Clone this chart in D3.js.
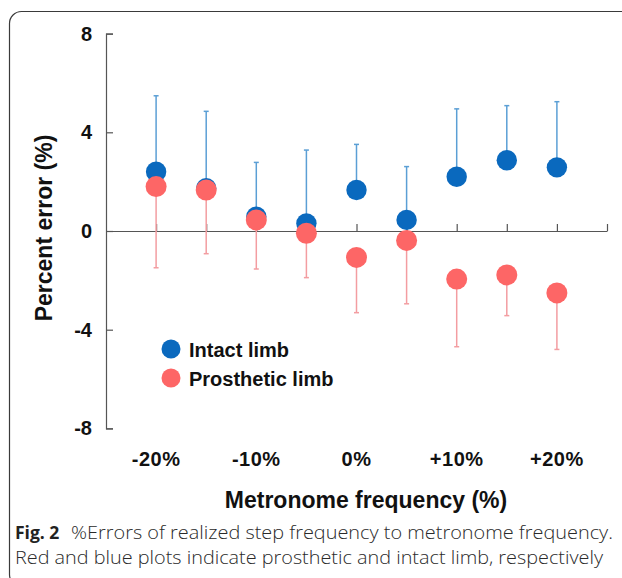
<!DOCTYPE html>
<html>
<head>
<meta charset="utf-8">
<script src="https://cdn.jsdelivr.net/npm/d3@7"></script>
<style>
  html, body { margin: 0; padding: 0; background: #fff; }
  svg { display: block; }
</style>
</head>
<body>
<svg id="chart" width="622" height="578"></svg>
<script>
// Metronome conditions (frequency offset from preferred cadence)
const categories = ["-20%", "-15%", "-10%", "-5%", "0%", "+5%", "+10%", "+15%", "+20%"];
const shownTickLabels = ["-20%", "-10%", "0%", "+10%", "+20%"];
const yTicks = [8, 4, 0, -4, -8];

// Percent error of realized step frequency (mean and SD)
const intactMean = [2.40, 1.73, 0.58, 0.31, 1.66, 0.45, 2.20, 2.87, 2.58];
const intactSD   = [3.08, 3.12, 2.20, 2.97, 1.85, 2.16, 2.75, 2.21, 2.66];
const prostheticMean = [1.80, 1.66, 0.45, -0.09, -1.07, -0.38, -1.95, -1.78, -2.51];
const prostheticSD   = [3.29, 2.58, 1.99, 1.80, 2.24, 2.57, 2.74, 1.65, 2.29];

const seriesNames = ["Intact limb", "Prosthetic limb"];

const svg = d3.select("#chart");
const AXIS_FONT = "'Liberation Sans', Arial, sans-serif";

// Rounded figure frame (runs past the right and bottom edges)
svg.append("rect")
  .attr("x", 9.5).attr("y", 11.5)
  .attr("width", 640).attr("height", 575)
  .attr("rx", 12).attr("ry", 12)
  .attr("fill", "none")
  .attr("stroke", "#3a3a3a")
  .attr("stroke-width", 1.2);

// Scales: categories sit at positions 1..9 on a 0..10 axis
const x = d3.scaleLinear().domain([0, 10]).range([106, 607]);
const y = d3.scaleLinear().domain([-8, 8]).range([428.4, 33.6]);
const pos = i => x(i + 1);

// Y axis with inward ticks
const yAxis = svg.append("g")
  .attr("transform", `translate(${x(0)},0)`)
  .call(d3.axisLeft(y).tickValues(yTicks).tickSizeInner(-7).tickSizeOuter(-7).tickPadding(14)
        .tickFormat(d => String(d)));
yAxis.selectAll("path, line").attr("stroke", "#555").attr("stroke-width", 1.2);
yAxis.selectAll("text")
  .attr("font-family", AXIS_FONT).attr("font-weight", "bold")
  .attr("font-size", 20).attr("fill", "#111");

// X axis along zero with upward ticks
const xAxis = svg.append("g")
  .attr("transform", `translate(0,${y(0)})`)
  .call(d3.axisBottom(x).tickValues(d3.range(1, 11)).tickSizeInner(-7).tickSizeOuter(0)
        .tickFormat(""));
xAxis.selectAll("path, line").attr("stroke", "#555").attr("stroke-width", 1.2);

// Category labels below the plot
svg.append("g").selectAll("text")
  .data(shownTickLabels)
  .join("text")
  .attr("x", d => pos(categories.indexOf(d)))
  .attr("y", 466)
  .attr("text-anchor", "middle")
  .attr("font-family", AXIS_FONT).attr("font-weight", "bold")
  .attr("font-size", 20).attr("letter-spacing", 0.5)
  .attr("fill", "#111")
  .text(d => d);

// Axis titles
svg.append("text")
  .attr("x", 366).attr("y", 508)
  .attr("text-anchor", "middle")
  .attr("font-family", AXIS_FONT).attr("font-weight", "bold")
  .attr("font-size", 23).attr("fill", "#111")
  .text("Metronome frequency (%)");

svg.append("text")
  .attr("transform", "translate(52,228) rotate(-90)")
  .attr("text-anchor", "middle")
  .attr("font-family", AXIS_FONT).attr("font-weight", "bold")
  .attr("font-size", 23).attr("fill", "#111")
  .text("Percent error (%)");

// Error bars: intact upward, prosthetic downward
const capHalf = 2.5;
function errorBars(means, sds, dir, color) {
  const g = svg.append("g").attr("stroke", color).attr("stroke-width", 1.5).attr("fill", "none");
  means.forEach((m, i) => {
    const end = m + dir * sds[i];
    g.append("line").attr("x1", pos(i)).attr("x2", pos(i)).attr("y1", y(m)).attr("y2", y(end));
    g.append("line").attr("x1", pos(i) - capHalf).attr("x2", pos(i) + capHalf)
      .attr("y1", y(end)).attr("y2", y(end));
  });
}
const blue = "#0a69be";
const red = "#fd6666";
errorBars(intactMean, intactSD, 1, "#5b9fd5");
errorBars(prostheticMean, prostheticSD, -1, "#f39da1");

// Mean markers
svg.append("g").selectAll("circle")
  .data(intactMean).join("circle")
  .attr("cx", (d, i) => pos(i)).attr("cy", d => y(d))
  .attr("r", 10.2).attr("fill", blue);

svg.append("g").selectAll("circle")
  .data(prostheticMean).join("circle")
  .attr("cx", (d, i) => pos(i)).attr("cy", d => y(d))
  .attr("r", 10.5).attr("fill", red);

// Legend
const legend = svg.append("g");
[blue, red].forEach((c, i) => {
  legend.append("circle").attr("cx", 171).attr("cy", 349 + i * 29).attr("r", 9.5).attr("fill", c);
  legend.append("text")
    .attr("x", 189).attr("y", 356.5 + i * 29)
    .attr("font-family", AXIS_FONT).attr("font-weight", "bold")
    .attr("font-size", 20).attr("fill", "#111")
    .text(seriesNames[i]);
});

// Caption
const CAP_FONT = "'Open Sans', 'Noto Sans', sans-serif";
svg.append("text")
  .attr("x", 15).attr("y", 538.5)
  .attr("font-family", CAP_FONT).attr("font-size", 17.5).attr("font-weight", "bold")
  .attr("fill", "#222")
  .text("Fig. 2");
svg.append("text")
  .attr("x", 71).attr("y", 538.5)
  .attr("font-family", CAP_FONT).attr("font-size", 17.5).attr("font-weight", 300)
  .attr("fill", "#2a2a2a")
  .attr("textLength", 542).attr("lengthAdjust", "spacingAndGlyphs")
  .text("%Errors of realized step frequency to metronome frequency.");

svg.append("text")
  .attr("x", 15).attr("y", 564)
  .attr("font-family", CAP_FONT).attr("font-size", 17.5).attr("font-weight", 300)
  .attr("fill", "#2a2a2a")
  .attr("textLength", 588).attr("lengthAdjust", "spacingAndGlyphs")
  .text("Red and blue plots indicate prosthetic and intact limb, respectively");
</script>
</body>
</html>
